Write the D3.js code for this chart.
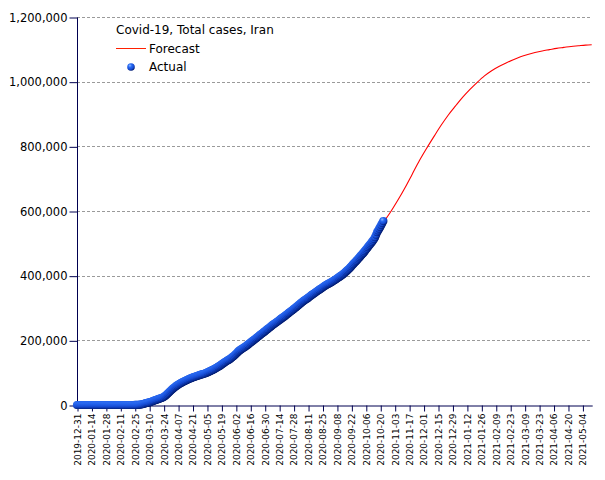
<!DOCTYPE html>
<html><head><meta charset="utf-8">
<script src="https://cdn.jsdelivr.net/npm/d3@7"></script>
<style>body{margin:0;background:#fff}svg{display:block}</style>
</head><body><svg id="c" width="605" height="480"></svg>
<script>
const chartTitle = "Covid-19, Total cases, Iran";
const seriesNames = ["Forecast", "Actual"];
const actualStart = "2019-12-31";
const actualValues = [
0,0,0,0,0,0,0,0,0,0, 0,0,0,0,0,0,0,0,0,0, 0,0,0,0,0,0,0,0,0,0, 0,0,0,0,0,0,0,0,0,0, 0,0,0,0,0,0,0,0,0,0,
2,5,18,28,43,61,95,139,245,388,593,
978,1501,2336,2922,3513,4747,5823,6566,7161,8042,9000,10075,11364,12729,13938,14991,16169,17361,18407,19644,20610,21638,23049,24811,27017,29406,32332,35408,38309,41495,44605,
47593,50468,53183,55743,58226,60500,62589,64586,66220,68192,70029,71686,73303,74877,76389,77995,79494,80868,82211,83505,84802,85996,87026,88194,89328,90481,91472,92584,93657,94640,
95646,96448,97424,98647,99970,101650,103135,104691,106220,107603,109286,110767,112725,114533,116635,118392,120198,122492,124603,126949,129341,131652,133521,135701,137724,139511,141591,143849,146668,148950,151466,
154445,157562,160696,164270,167156,169425,171789,173832,175927,177938,180156,182525,184955,187427,189876,192439,195051,197647,200262,202584,204952,207525,209970,212501,215096,217724,220180,222669,225205,227662,
230211,232863,235429,237878,240438,243051,245688,248379,250458,252720,255117,257303,259652,262173,264561,267061,269440,271606,273788,276202,278827,281413,284034,286523,288839,291172,293606,296273,298909,301530,304204,
306752,309437,312035,314786,317483,320117,322567,324692,326712,328844,331189,333699,336324,338825,341070,343203,345450,347835,350279,352558,354764,356792,358905,361150,363363,365606,367796,369911,371816,373570,375212,
376894,378752,380746,382772,384666,386658,388810,391112,393425,395488,397801,399940,402029,404648,407353,410334,413149,416198,419043,422140,425481,429193,432798,436319,439882,443086,446448,449960,453637,457219,
461044,464596,468119,471772,475674,479825,483844,488236,492378,496253,500075,504281,508389,513219,518980,526490,534631,539670,545286,550757,556891,562705,568896
];
const forecastDates = ["2020-10-23","2020-10-30","2020-11-06","2020-11-13","2020-11-20","2020-11-27","2020-12-04","2020-12-11","2020-12-18","2020-12-25","2021-01-01","2021-01-08","2021-01-15","2021-01-22","2021-01-29","2021-02-05","2021-02-12","2021-02-19","2021-02-26","2021-03-05","2021-03-12","2021-03-19","2021-03-26","2021-04-02","2021-04-09","2021-04-16","2021-04-23","2021-04-30","2021-05-07","2021-05-13"];
const forecastValues = [565000,597000,633000,672000,714000,756000,794000,830000,865000,897000,925000,952000,976000,998000,1018000,1034000,1047000,1058000,1068000,1077000,1084000,1090000,1095000,1099000,1103000,1106000,1109000,1111000,1113000,1114000];
const xTickLabels = ["2019-12-31","2020-01-14","2020-01-28","2020-02-11","2020-02-25","2020-03-10","2020-03-24","2020-04-07","2020-04-21","2020-05-05","2020-05-19","2020-06-02","2020-06-16","2020-06-30","2020-07-14","2020-07-28","2020-08-11","2020-08-25","2020-09-08","2020-09-22","2020-10-06","2020-10-20","2020-11-03","2020-11-17","2020-12-01","2020-12-15","2020-12-29","2021-01-12","2021-01-26","2021-02-09","2021-02-23","2021-03-09","2021-03-23","2021-04-06","2021-04-20","2021-05-04"];
const yTickValues = [0,200000,400000,600000,800000,1000000,1200000];
const xDomain = ["2019-12-31","2021-05-13"];

const parse = d3.utcParse("%Y-%m-%d");
const svg = d3.select("#c");
const axisColor = "#000050";
const font = "DejaVu Sans, Verdana, sans-serif";

const x = d3.scaleUtc().domain(xDomain.map(parse)).range([77, 591.7]);
const y = d3.scaleLinear().domain([0, 1200000]).range([405, 17]);

const defs = svg.append("defs");
const g = defs.append("radialGradient").attr("id","ball").attr("cx","40%").attr("cy","35%").attr("r","65%").attr("fx","35%").attr("fy","30%");
g.append("stop").attr("offset","0%").attr("stop-color","#8fbcff");
g.append("stop").attr("offset","35%").attr("stop-color","#2a6cf5");
g.append("stop").attr("offset","75%").attr("stop-color","#1448d0");
g.append("stop").attr("offset","100%").attr("stop-color","#001a70");

// gridlines
svg.append("g").selectAll("line").data(yTickValues.filter(v=>v>0)).join("line")
  .attr("x1",77).attr("x2",591.7).attr("y1",d=>Math.round(y(d))+0.5).attr("y2",d=>Math.round(y(d))+0.5)
  .attr("stroke","#9a9a9a").attr("stroke-width",1).attr("stroke-dasharray","3,2");

// y axis
const yAxis = svg.append("g").attr("transform","translate(77.5,0.5)")
  .call(d3.axisLeft(y).tickValues(yTickValues).tickFormat(d3.format(",")).tickSize(8).tickPadding(2));
yAxis.select(".domain").attr("stroke",axisColor).attr("d","M0,17V405");
yAxis.selectAll(".tick line").attr("stroke",axisColor);
yAxis.selectAll("text").attr("fill","#000").style("font-family",font).style("font-size","11.5px");

// x axis
const xAxis = svg.append("g").attr("transform","translate(0.5,405.5)")
  .call(d3.axisBottom(x).tickValues(xTickLabels.map(parse)).tickFormat(d3.utcFormat("%Y-%m-%d")).tickSize(6).tickSizeOuter(0));
xAxis.select(".domain").attr("stroke",axisColor);
xAxis.selectAll(".tick line").attr("stroke",axisColor);
xAxis.selectAll("text").attr("fill","#000").style("font-family",font).style("font-size","9px")
  .attr("transform","rotate(-90)").attr("text-anchor","end").attr("x",-8).attr("y",0).attr("dy","0.32em");

// forecast
const fData = forecastDates.map((d,i)=>({d:parse(d), v:forecastValues[i]}));
svg.append("path").datum(fData)
  .attr("fill","none").attr("stroke","#ff0000").attr("stroke-width",1.1)
  .attr("d", d3.line().x(d=>x(d.d)).y(d=>y(d.v)).curve(d3.curveMonotoneX));

// actual
const t0 = parse(actualStart);
const aData = actualValues.map((v,i)=>({d:d3.utcDay.offset(t0,i), v}));
svg.append("g").selectAll("circle").data(aData).join("circle")
  .attr("cx",d=>x(d.d)).attr("cy",d=>y(d.v)).attr("r",4.1)
  .attr("fill","url(#ball)");

// legend
svg.append("text").attr("x",116).attr("y",34).text(chartTitle)
  .style("font-family",font).style("font-size","12px").attr("fill","#000");
svg.append("line").attr("x1",116).attr("x2",146).attr("y1",48.5).attr("y2",48.5).attr("stroke","#ff2000").attr("stroke-width",1);
svg.append("text").attr("x",149).attr("y",52.5).text(seriesNames[0])
  .style("font-family",font).style("font-size","12px").attr("fill","#000");
svg.append("circle").attr("cx",131).attr("cy",67).attr("r",3.8).attr("fill","url(#ball)");
svg.append("text").attr("x",149).attr("y",71).text(seriesNames[1])
  .style("font-family",font).style("font-size","12px").attr("fill","#000");
</script></body></html>
